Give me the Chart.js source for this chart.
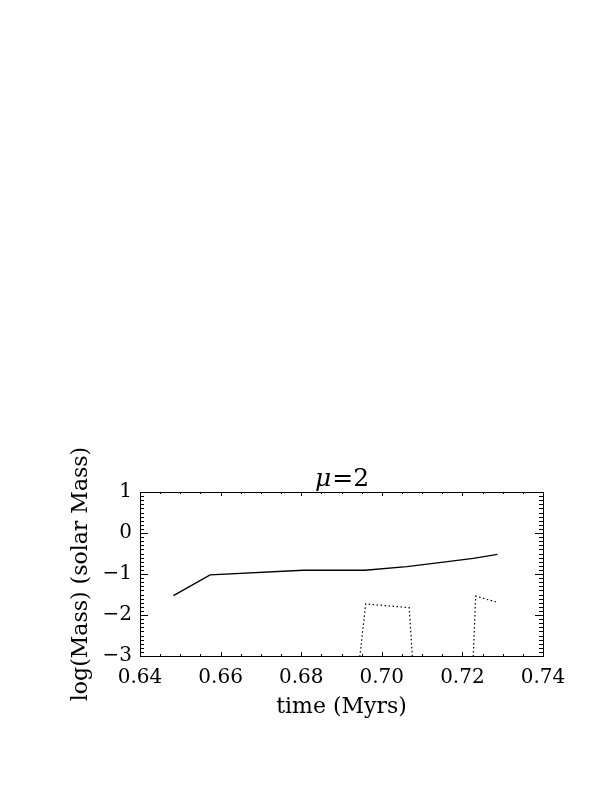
<!DOCTYPE html>
<html>
<head>
    <title>Mass vs time</title>
    <script src="https://cdn.jsdelivr.net/npm/chart.js"></script>
    <style>
        body { margin: 0; background: #fff; }
        canvas { display: block; }
    </style>
</head>
<body>
    <canvas id="massChart" width="612" height="792"></canvas>

    <script>
        // values
        const solidTime = [0.6483, 0.6574, 0.6805, 0.6958, 0.7062, 0.7153, 0.7227, 0.7287];
        const solidMass = [-1.53, -1.02, -0.91, -0.91, -0.82, -0.71, -0.62, -0.52];
        const dotTime = [0.6940, 0.6960, 0.7068, 0.7079, 0.7150, 0.7225, 0.7233, 0.7283];
        const dotMass = [-3.5, -1.73, -1.82, -3.5, null, -3.5, -1.54, -1.68];

        const xTickValues = [0.64, 0.66, 0.68, 0.70, 0.72, 0.74];
        const xTickLabels = ['0.64', '0.66', '0.68', '0.70', '0.72', '0.74'];
        const yTickValues = [-3, -2, -1, 0, 1];
        const yTickLabels = ['\u22123', '\u22122', '\u22121', '0', '1'];
        const titleMu = '\u03bc';
        const titleRest = '=2';

        const FONT = '"DejaVu Serif", "Liberation Serif", serif';

        function toPoints(xs, ys) {
            return xs.map((x, i) => ({ x: x, y: ys[i] }));
        }

        // IDL-style box with inward major/minor ticks on all four sides
        const frameTicks = {
            id: 'frameTicks',
            afterDatasetsDraw(chart) {
                const { ctx, chartArea: a, scales: { x, y } } = chart;
                ctx.save();
                ctx.strokeStyle = '#000';
                ctx.lineWidth = 1;
                ctx.strokeRect(a.left + 0.5, a.top + 0.5, a.right - a.left, a.bottom - a.top);
                ctx.beginPath();
                for (let i = 0; i <= 20; i++) {
                    const px = Math.round(x.getPixelForValue(0.64 + i * 0.005)) + 0.5;
                    const len = i % 4 === 0 ? 4 : 2;
                    ctx.moveTo(px, a.bottom);
                    ctx.lineTo(px, a.bottom - len);
                    ctx.moveTo(px, a.top);
                    ctx.lineTo(px, a.top + len);
                }
                for (let i = 0; i <= 40; i++) {
                    const py = Math.round(y.getPixelForValue(-3 + i * 0.1)) + 0.5;
                    const len = i % 10 === 0 ? 8 : 4;
                    ctx.moveTo(a.left, py);
                    ctx.lineTo(a.left + len, py);
                    ctx.moveTo(a.right, py);
                    ctx.lineTo(a.right - len, py);
                }
                ctx.stroke();
                ctx.restore();
            }
        };

        // title with italic mu
        const muTitle = {
            id: 'muTitle',
            afterDraw(chart) {
                const { ctx, chartArea: a } = chart;
                ctx.save();
                ctx.fillStyle = '#000';
                ctx.textBaseline = 'alphabetic';
                ctx.textAlign = 'left';
                ctx.font = 'italic 25px ' + FONT;
                const w1 = ctx.measureText(titleMu).width;
                ctx.font = '25px ' + FONT;
                const w2 = ctx.measureText(titleRest).width;
                const x0 = (a.left + a.right) / 2 - (w1 + w2) / 2;
                ctx.font = 'italic 25px ' + FONT;
                ctx.fillText(titleMu, x0, 486);
                ctx.font = '25px ' + FONT;
                ctx.fillText(titleRest, x0 + w1 + 1, 486);
                ctx.restore();
            }
        };

        const ctx = document.getElementById('massChart').getContext('2d');

        new Chart(ctx, {
            type: 'scatter',
            data: {
                datasets: [
                    {
                        label: 'solid',
                        data: toPoints(solidTime, solidMass),
                        showLine: true,
                        borderColor: '#000',
                        borderWidth: 1.4,
                        pointRadius: 0,
                        clip: 0
                    },
                    {
                        label: 'dotted',
                        data: toPoints(dotTime, dotMass),
                        showLine: true,
                        spanGaps: false,
                        borderColor: '#000',
                        borderWidth: 1.2,
                        borderDash: [1.5, 2.5],
                        pointRadius: 0,
                        clip: 0
                    }
                ]
            },
            options: {
                responsive: false,
                animation: false,
                layout: {
                    padding: { left: 64, right: 69, top: 492, bottom: 66 }
                },
                plugins: {
                    legend: { display: false },
                    tooltip: { enabled: false },
                    title: { display: false }
                },
                scales: {
                    x: {
                        type: 'linear',
                        min: 0.64,
                        max: 0.74,
                        grid: { display: false, drawTicks: false },
                        border: { display: false },
                        afterBuildTicks(scale) {
                            scale.ticks = xTickValues.map(v => ({ value: v }));
                        },
                        ticks: {
                            color: '#000',
                            padding: 10,
                            maxRotation: 0,
                            font: { family: FONT, size: 20 },
                            callback: (v, i) => xTickLabels[i]
                        },
                        title: {
                            display: true,
                            text: 'time (Myrs)',
                            color: '#000',
                            font: { family: FONT, size: 22 },
                            padding: { top: 1, bottom: 6 }
                        },
                        afterFit(scale) { scale.height = 70; }
                    },
                    y: {
                        type: 'linear',
                        min: -3,
                        max: 1,
                        grid: { display: false, drawTicks: false },
                        border: { display: false },
                        afterBuildTicks(scale) {
                            scale.ticks = yTickValues.map(v => ({ value: v }));
                        },
                        ticks: {
                            color: '#000',
                            padding: 8,
                            font: { family: FONT, size: 20 },
                            callback: (v, i) => yTickLabels[i]
                        },
                        title: {
                            display: true,
                            text: 'log(Mass) (solar Mass)',
                            color: '#000',
                            font: { family: FONT, size: 22 },
                            padding: { top: 4, bottom: 4 }
                        },
                        afterFit(scale) { scale.width = 76; }
                    }
                }
            },
            plugins: [frameTicks, muTitle]
        });
    </script>
</body>
</html>
